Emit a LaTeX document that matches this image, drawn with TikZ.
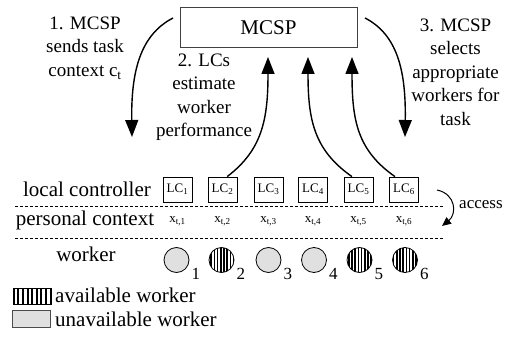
\documentclass[tikz,border=0pt]{standalone}
\usepackage{fontspec}
\setmainfont{Liberation Serif}
\usetikzlibrary{arrows.meta,patterns.meta,calc}
\begin{document}
\begin{tikzpicture}[x=1pt,y=-1pt,
  lbl/.style={align=center, font=\fontsize{19}{23.5}\selectfont, inner sep=0},
  lvl/.style={font=\fontsize{21}{25}\selectfont, inner sep=0},
  lcbox/.style={draw, line width=0.8pt, minimum width=29pt, minimum height=25pt, inner sep=0, font=\fontsize{13}{15}\selectfont},
  ctx/.style={font=\fontsize{13}{15}\selectfont, inner sep=0},
  sep/.style={dash pattern=on 3pt off 2pt, line width=0.7pt},
  flow/.style={line width=1.4pt, -{Triangle[length=17pt,width=13pt]}},
  smallflow/.style={line width=1pt, -{Triangle[length=9pt,width=8pt]}},
  avail/.style={circle, draw, line width=0.8pt, minimum size=25pt, inner sep=0, pattern={Lines[angle=90,distance=3.2pt,line width=1.5pt]}},
  unavail/.style={circle, draw, line width=0.8pt, minimum size=25pt, inner sep=0, fill=black!12},
  idx/.style={font=\fontsize{17}{20}\selectfont, inner sep=0, anchor=base west}
]
\useasboundingbox[fill=white] (0,0) rectangle (510,339);

% MCSP box
\node[draw=black!75, line width=1pt, minimum width=177pt, minimum height=40pt, inner sep=0,
      font=\fontsize{21}{25}\selectfont] (mcsp) at (268.5,28) {MCSP};

% step labels
\node[lbl] (lab1) at (85,48) {1. MCSP\\sends task\\context c\textsubscript{t}};
\node[lbl] (lab2) at (204,97) {2. LCs\\estimate\\worker\\performance};
\node[lbl] (lab3) at (455.5,72) {3. MCSP\\selects\\appropriate\\workers for\\task};

% level labels
\node[lvl] (lvlA) at (87,189) {local controller};
\node[lvl] (lvlB) at (85,220) {personal context};
\node[lvl] (lvlC) at (86,254) {worker};

% separators
\draw[sep] (15,206) -- (443,206);
\draw[sep] (15,238) -- (443,238);

% local controllers, contexts, workers
\foreach \i/\x in {1/177.5,2/222.5,3/268.5,4/313,5/358.5,6/404}{
  \node[lcbox] (lc\i) at (\x,189.5) {LC\textsubscript{\i}};
  \node[ctx] (x\i) at (\x,221) {x\textsubscript{t,\i}};
}
\foreach \i/\x/\s in {1/176.5/unavail,2/221.5/avail,3/268.5/unavail,4/314/unavail,5/359.5/avail,6/405/avail}{
  \node[\s] (w\i) at (\x,260) {};
  \node[idx] (n\i) at (\x+15,279) {\i};
}

% free ends
\coordinate (s1) at (173,18);
\coordinate (e1) at (132,137);
\coordinate (s3) at (365,18);
\coordinate (e3) at (405,137);
\coordinate (u2) at (268,57);
\coordinate (u5) at (308,57);
\coordinate (u6) at (352,57);
\coordinate (acs) at (437,190);
\coordinate (ace) at (442,226);

% arrows
\draw[flow] (s1) .. controls (140,35) and (131,72) .. (e1);
\draw[flow] (s3) .. controls (398,35) and (406,72) .. (e3);
\draw[flow] (lc2.70) .. controls (262,150) and (268,120) .. (u2);
\draw[flow] (lc5.117) .. controls (314,150) and (308,120) .. (u5);
\draw[flow] (lc6.125) .. controls (357,150) and (352,120) .. (u6);
\draw[smallflow] (acs) .. controls (456,194) and (457,214) .. (ace);
\node[font=\fontsize{17}{20}\selectfont, inner sep=0, anchor=west] (acc) at (459,205) {access};

% legend
\node[draw, line width=0.8pt, minimum width=38pt, minimum height=16pt, inner sep=0, anchor=north west,
      pattern={Lines[angle=90,distance=4.6pt,line width=2pt]}] (legA) at (12,287) {};
\node[draw=black!70, line width=0.8pt, minimum width=38pt, minimum height=17pt, inner sep=0, anchor=north west,
      fill=black!12] (legB) at (12,309.5) {};
\node[lvl, anchor=west] (legAt) at (55,295) {available worker};
\node[lvl, anchor=west] (legBt) at (55,319) {unavailable worker};
\end{tikzpicture}
\end{document}
